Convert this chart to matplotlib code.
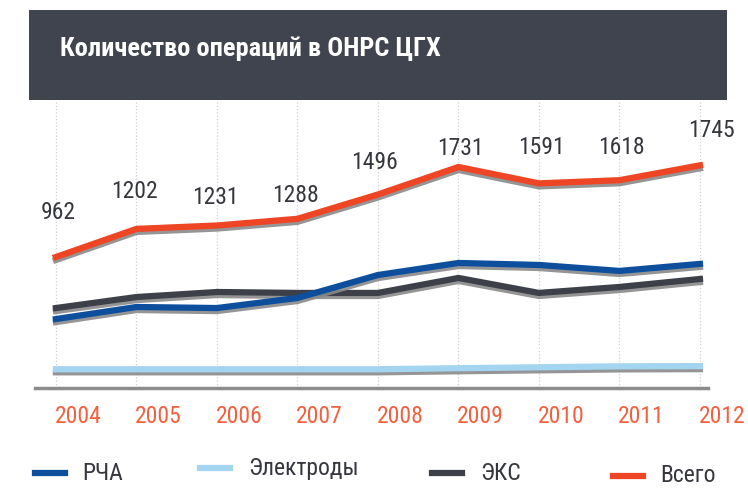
import matplotlib
matplotlib.use("Agg")
import matplotlib.pyplot as plt
import matplotlib.patheffects as pe
import matplotlib.transforms as mtrans
from matplotlib import font_manager
from matplotlib.lines import Line2D
from matplotlib.patches import Rectangle

# узкий шрифт, похожий на DIN Condensed
names = set(f.name for f in font_manager.fontManager.ttflist)
shrift = "DejaVu Sans"
for cand in ["Roboto Condensed", "PT Sans Narrow", "Fira Sans Condensed", "Liberation Sans Narrow"]:
    if cand in names:
        shrift = cand
        break
plt.rcParams["font.family"] = [shrift, "DejaVu Sans"]

# данные
years = [2004, 2005, 2006, 2007, 2008, 2009, 2010, 2011, 2012]
vsego = [962, 1202, 1231, 1288, 1496, 1731, 1591, 1618, 1745]
rcha = [432, 535, 526, 612, 808, 911, 894, 843, 903]
eks = [526, 620, 663, 655, 655, 783, 655, 706, 774]
elektrody = [3, 3, 3, 3, 3, 12, 20, 28, 30]

# подписи над линией Всего (сдвиг в пикселях)
label_dy = [44, 37, 28, 23, 32, 18, 36, 33, 35]
label_dx = [2, -2, -2, -2, -3, 2, 2, 2, 11]

c_vsego = "#ee4524"
c_rcha = "#0d4f9c"
c_eks = "#3d4049"
c_el = "#a3d4f0"
c_title = "#40444e"
c_tick = "#f2603f"
c_text = "#35373d"

fig = plt.figure(figsize=(7.48, 4.88), dpi=100)
W, H = 748, 488

# плашка заголовка
fig.add_artist(Rectangle((29 / W, 1 - 100 / H), (727 - 29) / W, 90 / H,
                         transform=fig.transFigure, color=c_title, lw=0))
fig.text(60 / W, 1 - 49 / H, "Количество операций в ОНРС ЦГХ", color="white",
         fontsize=19, fontweight="bold", va="center", ha="left")

ax = fig.add_axes([35 / W, 1 - 388 / H, (708 - 35) / W, (388 - 100) / H])
ax.set_xlim(2003.74, 2012.1)
ax.set_ylim(-157, 2303)

for y in years:
    ax.axvline(y, color="#d0d0d0", lw=0.9, ls=":", zorder=0)

shadow = [pe.SimpleLineShadow(offset=(0, -2.2), shadow_color="#8a8a8a", alpha=0.9),
          pe.Normal()]
ax.plot(years, elektrody, color=c_el, lw=4.5, path_effects=shadow, zorder=2)
ax.plot(years, eks, color=c_eks, lw=4.5, path_effects=shadow, zorder=3)
ax.plot(years, rcha, color=c_rcha, lw=4.5, path_effects=shadow, zorder=4)
ax.plot(years, vsego, color=c_vsego, lw=4.5, path_effects=shadow, zorder=5)

for i in range(len(years)):
    ax.annotate(str(vsego[i]), (years[i], vsego[i]),
                xytext=(label_dx[i] * 0.72, label_dy[i] * 0.72), textcoords="offset points",
                ha="center", va="center", fontsize=17, color=c_text)

for s in ["top", "right", "left"]:
    ax.spines[s].set_visible(False)
ax.spines["bottom"].set_color("#8c8c8c")
ax.spines["bottom"].set_linewidth(2.5)
ax.set_yticks([])
ax.set_xticks(years)
ax.set_xticklabels([str(y) for y in years], fontsize=17, color=c_tick)
ax.tick_params(axis="x", length=0, pad=12)
sdvig = mtrans.ScaledTranslation(22 / 100, 0, fig.dpi_scale_trans)
for lab in ax.get_xticklabels():
    lab.set_transform(lab.get_transform() + sdvig)

# легенда вручную
legenda = [("РЧА", c_rcha, 35, 82, 473),
           ("Электроды", c_el, 200, 248, 468),
           ("ЭКС", c_eks, 432, 480, 473),
           ("Всего", c_vsego, 613, 660, 476)]
for name, col, x0, xt, yy in legenda:
    fig.add_artist(Line2D([x0 / W, (x0 + 30) / W], [1 - yy / H, 1 - yy / H],
                          transform=fig.transFigure, color=col, lw=4.5))
    fig.text(xt / W, 1 - yy / H, name, fontsize=17, color=c_text, va="center", ha="left")

fig.savefig("out.png", dpi=100)
